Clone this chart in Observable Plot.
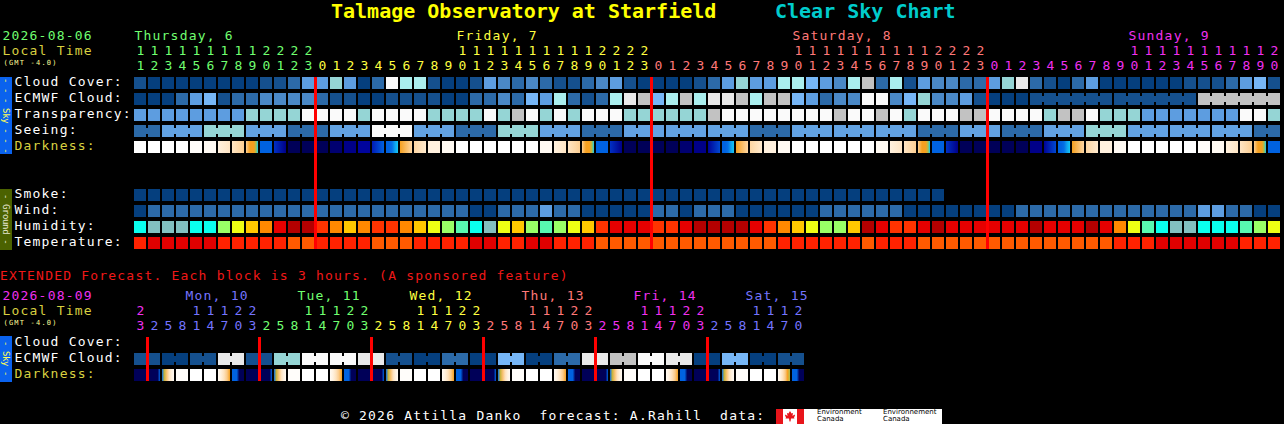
<!DOCTYPE html>
<html>
<head>
<meta charset="utf-8">
<title>Talmage Observatory at Starfield - Clear Sky Chart</title>
<script src="https://cdn.jsdelivr.net/npm/d3@7"></script>
<script src="https://cdn.jsdelivr.net/npm/@observablehq/plot@0.6"></script>
<style>
  html, body { margin: 0; padding: 0; background: #000; }
  #page { position: relative; width: 1284px; height: 424px; background: #000; overflow: hidden;
          font-family: "DejaVu Sans Mono", "Liberation Mono", monospace; color: #fff; }
  .abs { position: absolute; white-space: pre; }
  .txt { font-size: 13px; line-height: 16px; letter-spacing: 1.2px; }
  .title { top: -1px; font-size: 20px; line-height: 24px; font-weight: bold; }
  .side { position: absolute; left: 0; width: 12px; writing-mode: vertical-rl; text-align: center;
          font-size: 9px; line-height: 12px; letter-spacing: -0.4px; overflow: hidden; white-space: pre; }
  .plotbox { position: absolute; left: 0; width: 1284px; }
  .plotbox svg { display: block; max-width: none; }
  .ec { position: absolute; font-family: "DejaVu Sans", sans-serif; font-size: 7px; line-height: 7px; color: #000; white-space: pre; }
</style>
</head>
<body>
<div id="page">
  <div class="abs title" style="left:331px;color:#ffff00;">Talmage Observatory at Starfield</div>
  <div class="abs title" style="left:775px;color:#00cccc;">Clear Sky Chart</div>
  <div class="plotbox" id="mainHeader" style="top:27px;"></div>
  <div class="plotbox" id="mainGrid" style="top:77px;"></div>
  <div class="side" style="top:77px;height:77px;background:#0a62ee;color:#ffff55;">- - - Sky - - -</div>
  <div class="side" style="top:189px;height:61px;background:#4b6200;color:#e6e6d0;">- Ground -</div>
  <div class="abs txt" id="extNote" style="left:0;top:268px;color:#f01818;"></div>
  <div class="plotbox" id="extHeader" style="top:288px;"></div>
  <div class="plotbox" id="extGrid" style="top:337px;"></div>
  <div class="side" style="top:336px;height:46px;background:#0a62ee;color:#ffff55;">- Sky -</div>
  <div class="abs txt" id="footer" style="left:341px;top:408px;color:#fff;"></div>
  <div style="position:absolute;left:776px;top:409px;width:28px;height:15px;"><svg width="28" height="15" viewBox="0 0 28 15" style="display:block"><rect x="0" y="0" width="28" height="15" fill="#fff"/><rect x="0" y="0" width="7" height="15" fill="#e8151b"/><rect x="21" y="0" width="7" height="15" fill="#e8151b"/><polygon fill="#e8151b" points="14,2 15.5,4.5 17,4 16.5,7 18.5,5.5 19,6.5 18,8.5 18.5,9.5 15,9.5 14.5,12.5 13.5,12.5 13,9.5 9.5,9.5 10,8.5 9,6.5 9.5,5.5 11.5,7 11,4 12.5,4.5"/></svg></div>
  <div style="position:absolute;left:804px;top:409px;width:138px;height:15px;background:#fff;">
    <div class="ec" style="left:13px;top:0px;">Environment</div>
    <div class="ec" style="left:13px;top:7px;">Canada</div>
    <div class="ec" style="left:79px;top:0px;">Environnement</div>
    <div class="ec" style="left:79px;top:7px;">Canada</div>
  </div>
</div>
<script>
// ===================== DATA =====================
const mainDate = "2026-08-06";
const extDate = "2026-08-09";
const localTimeLabel = "Local Time";
const gmtLabel = "(GMT -4.0)";
const extNote = "EXTENDED Forecast. Each block is 3 hours. (A sponsored feature)";
const footerText = "\u00a9 2026 Attilla Danko  forecast: A.Rahill  data:";

// main forecast: one block per hour
const mainDayLabels = ["Thursday, 6", "Friday, 7", "Saturday, 8", "Sunday, 9"];
const mainDayFirstHour = [11, 0, 0, 0];
const mainDayLastHour = [23, 23, 23, 20];

const skyRows = ["Cloud Cover:", "ECMWF Cloud:", "Transparency:", "Seeing:", "Darkness:"];
const groundRows = ["Smoke:", "Wind:", "Humidity:", "Temperature:"];

// cloud cover, % (hourly)
const cloudCover = [
  10,0,0,0,0,0,0,0,0,10,10,20,40,40,60,40,0,20,100,70,70,
  10,0,0,10,40,30,20,30,20,10,10,20,30,40,10,0,0,0,0,10,20,40,60,40,40,70,70,50,40,30,
  70,80,20,70,10,40,30,30,20,20,40,60,90,20,10,0,20,40,0,0,0,0,0,0,10,10,10,20,40,50,10
];
// ECMWF cloud, % : hourly part, then 6-hour blocks
const ecmwfHourly = [
  0,0,0,20,40,50,10,20,20,30,30,30,30,20,10,10,0,0,10,10,10,
  10,0,0,20,20,30,20,50,40,70,20,10,20,70,90,80,50,70,80,70,90,90,80,70,80,80,50,40,20,30,
  30,100,100,30,50,60,30,30,40,10,0,0,0
];
const ecmwfSixHour = [10, 10, 80];
// transparency: 0 transparent,1 above avg,2 average,3 below avg,4 poor,5 too cloudy
const transparency = [
  2,2,2,2,2,2,2,2,3,3,3,3,5,5,5,5,3,5,5,5,5,
  3,3,3,3,5,3,4,5,3,5,3,5,5,5,3,3,3,3,3,3,4,5,5,5,5,5,5,5,5,4,
  5,5,4,5,3,5,5,5,4,4,5,5,5,5,3,4,4,5,3,3,3,2,2,2,2,2,2,2,5,5,3
];
// seeing, x/5 (0 = too cloudy), 3-hour blocks
const seeingThreeHour = [4,3,2,3,4,3,0,3,4,2,3,4,3,3,3,4,3,3,3,4,3,4,3,2,3,3,3,4];
// darkness: sky brightness index (-4 daylight ... 6 darkest); arrays = change within the hour
const darkness = [
  -4,-4,-4,-4,-3.8,-3.5,[-3,-2.2],[-2.2,-1.2],[-1.2,-0.5,0,0,0,0.5,1],2,[3,5],6,6,
  6,5.5,5,4.3,[3.5,2],[2,2,1.8,1.3,1],[0,-1.5],[-1.5,-2.5],-3,-3.5,-4,-4,-4,-4,-4,-4,
  -3.5,[-3,-2.2],[-2.2,-1.2],[-1.2,-0.5,0,0,0,0.5,1],2,[3,5],6,6,6,6,5.5,5,
  [4.5,2.5],[2,2,1.8,1.3,1],[0,-1.5],[-1.5,-2.5],-3,-3.5,-4,-4,-4,-4,-4,-4,
  -3.5,[-3,-2.2],[-2.2,-1.2],[-1.2,-0.5,0,0,0,0.5,1],2,[3,5],6,6,6,6,6,
  5,[4.5,2.5],[2,2,1.8,1.3,1],[0,-1.5],[-1.5,-2.5],-3,-3.5,-4,-4,-4,-4,-4,
  -3.8,-3.5,[-3,-2.2],[-2.2,-1.2],[-1.2,-0.5,0,0,0,0.5,1],2
];
// smoke, ug/m3
const smoke = [
  0,0,0,0,0,0,0,0,0,0,0,0,0,0,0,0,0,0,0,0,0,0,0,0,0,0,0,0,0,
  0,0,0,0,0,0,0,0,0,0,0,0,0,0,0,0,0,0,0,0,0,0,0,0,0,0,0,0,0
];
// wind, mph
const wind = [
  3,8,9,8,8,7,8,9,9,8,8,8,7,7,8,8,8,7,7,8,8,
  8,7,7,4,4,7,8,8,12,8,7,4,3,3,4,5,7,7,5,7,8,8,4,4,3,3,3,4,7,8,
  8,8,7,7,5,4,4,3,3,4,4,5,7,8,8,8,9,9,9,8,8,8,8,7,7,12,12,8,7,5,4
];
// relative humidity, %
const humidity = [
  52,48,47,48,53,54,62,67,72,77,87,92,93,82,77,73,77,82,81,77,72,
  67,62,57,53,48,68,72,63,58,62,66,71,82,87,88,87,82,83,87,92,93,93,91,87,83,78,72,67,63,62,
  72,92,87,82,83,87,92,88,87,86,86,87,87,92,88,87,86,91,87,78,68,58,53,48,48,53,54,53,58,62,67
];
// temperature, C
const temperature = [
  27,29,30,31,30,29,28,27,27,27,26,25,25,26,26,26,26,25,24,25,26,
  27,27,28,29,29,28,28,29,29,28,27,26,25,24,24,24,23,23,23,23,24,24,24,25,25,26,27,27,28,28,
  27,25,26,27,26,25,24,24,24,24,23,23,23,23,23,23,24,24,25,26,27,28,29,30,30,31,30,29,28,27,26
];

// extended forecast: one block per 3 hours
const extDayLabels = [null, "Mon, 10", "Tue, 11", "Wed, 12", "Thu, 13", "Fri, 14", "Sat, 15"];
const extDayFirstHour = [23, 2, 2, 2, 2, 2, 2];
const extDayLastHour = [23, 23, 23, 23, 23, 23, 20];
const extStepHours = 3;
const extRows = ["Cloud Cover:", "ECMWF Cloud:", "Darkness:"];
const extCloudCover = [];
// ECMWF cloud, % per 6 hours (two blocks each)
const extEcmwfSixHour = [10,0,10,90,10,60,100,100,90,10,0,20,0,50,0,20,90,80,100,90,0,50,0,10];
const extDarkness = [
  6,
  [6,6,6,6,6,2],[1.8,0.3,-0.8,-2,-3,-3.5],-3.8,-4,-4,[-3.5,-3,-2,-1,0],[2,2,2,6,6,6],6,
  [6,6,6,6,6,2],[1.8,0.3,-0.8,-2,-3,-3.5],-3.8,-4,-4,[-3.5,-3,-2,-1,0],[2,2,2,6,6,6],6,
  [6,6,6,6,6,2],[1.8,0.3,-0.8,-2,-3,-3.5],-3.8,-4,-4,[-3.5,-3,-2,-1,0],[2,2,2,6,6,6],6,
  [6,6,6,6,6,2],[1.8,0.3,-0.8,-2,-3,-3.5],-3.8,-4,-4,[-3.5,-3,-2,-1,0],[2,2,2,6,6,6],6,
  [6,6,6,6,6,2],[1.8,0.3,-0.8,-2,-3,-3.5],-3.8,-4,-4,[-3.5,-3,-2,-1,0],[2,2,2,6,6,6],6,
  [6,6,6,6,6,2],[1.8,0.3,-0.8,-2,-3,-3.5],-3.8,-4,-4,[-3.5,-3,-2,-1,0,0.5],[2,2,2,6,6,6]
];

// ===================== STYLES =====================
const MONO = '"DejaVu Sans Mono", "Liberation Mono", monospace';
const STEP = 14;            // px per block
const X0 = 134;             // px where the first block starts
const CELL = 12 / 14;       // block width as fraction of a step
const FS = 13;              // body font size
const LOCAL_YELLOW = "#d8d040";
const mainDayTint = ["#70ff70", "#ffff40", "#ff7878", "#f030f0"];
const extDayTint = ["#f030f0", "#7474ff", "#70ff70", "#ffff40", "#ff7878", "#f030f0", "#7474ff"];
const CLOUD_PALETTE = ["#053f7e","#15508e","#2c6aa8","#4a88c6","#5d9de0","#76b6f6","#95d5d5","#aaeeee","#c2c2c2","#e9e9e9","#fafafa"];
const TRANSP_PALETTE = ["#053f7e","#2c6cac","#5d9de0","#95d5d5","#c2c2c2","#fafafa"];
const SEEING_PALETTE = ["#fafafa","#c2c2c2","#95d5d5","#62a2e2","#2c6aa8","#053f7e"];
const cloudColor = v => CLOUD_PALETTE[Math.round(v / 10)];
const transpColor = v => TRANSP_PALETTE[v];
const seeingColor = v => SEEING_PALETTE[v];
const windColor = d3.scaleThreshold().domain([5.5, 11.5, 16.5]).range(["#053f7e","#2c6aa8","#5d9de0","#95d5d5"]);
const smokeColor = d3.scaleThreshold().domain([2, 5]).range(["#053f7e","#2c6aa8","#5d9de0"]);
const humidColor = d3.scaleThreshold().domain([50,55,60,65,70,75,80,85,90])
  .range(["#82c0c0","#0affee","#58f8b0","#99ff66","#eeff14","#ffc800","#ff8800","#ff3300","#e60000","#b40000"]);
const tempColor = d3.scaleThreshold().domain([25.5, 28.5]).range(["#ff5a00","#ff2200","#e00000"]);
const darkColor = d3.scaleLinear()
  .domain([-4, -3.5, -3, -2, -1, 0, 0.5, 1, 1.6, 2, 3, 4, 5, 6])
  .range(["#ffffff","#fffaf3","#fff1de","#fee2bd","#fbca88","#f5a020","#a8c050","#14c8f4","#0a7ce8","#0062e0","#0030c4","#0006a6","#000088","#000058"])
  .clamp(true);

// ===================== BUILD =====================
function slotsFrom(labels, first, last, step) {
  const out = [];
  labels.forEach((label, d) => {
    for (let h = first[d]; h <= last[d]; h += step) out.push({i: out.length, h, d});
  });
  return out;
}
const mainSlots = slotsFrom(mainDayLabels, mainDayFirstHour, mainDayLastHour, 1);
const extSlots = slotsFrom(extDayLabels, extDayFirstHour, extDayLastHour, extStepHours);

function makeRow(row, values, color, groupOf) {
  return values.map((v, i) => ({row, i, v, fill: color(v, i), g: groupOf ? groupOf(i) : null}));
}
function makeBridges(cells) {
  const out = [];
  for (let k = 0; k + 1 < cells.length; k++) {
    const a = cells[k], b = cells[k + 1];
    if (a.g != null && a.g === b.g && b.i === a.i + 1) out.push({row: a.row, i: a.i, fill: a.fill});
  }
  return out;
}
function darkRow(row, values, prefix) {
  return values.map((v, i) => ({row, i, v, g: null,
    fill: Array.isArray(v) ? `url(#${prefix}${i})` : darkColor(v)}));
}
function addGradients(svg, cells, prefix) {
  const defs = d3.select(svg).insert("defs", ":first-child");
  cells.forEach(c => {
    if (!Array.isArray(c.v)) return;
    const g = defs.append("linearGradient").attr("id", prefix + c.i)
      .attr("x1", 0).attr("x2", 1).attr("y1", 0).attr("y2", 0);
    c.v.forEach((val, k) => g.append("stop")
      .attr("offset", k / (c.v.length - 1)).attr("stop-color", darkColor(val)));
  });
}

// main grid rows
const ecmwfValues = mainSlots.map((s, i) => i < ecmwfHourly.length ? ecmwfHourly[i]
  : ecmwfSixHour[Math.floor((i - ecmwfHourly.length) / 6)]);
const ecmwfGroup = i => i < ecmwfHourly.length ? null : "six" + Math.floor((i - ecmwfHourly.length) / 6);
let gk = -1;
const seeingGroupIdx = mainSlots.map((s, i) => { if (i === 0 || s.h % 3 === 1) gk++; return gk; });
const seeingValues = seeingGroupIdx.map(k => seeingThreeHour[k]);

const cloudCells = makeRow(skyRows[0], cloudCover, cloudColor);
const ecmwfCells = makeRow(skyRows[1], ecmwfValues, cloudColor, ecmwfGroup);
const transpCells = makeRow(skyRows[2], transparency, transpColor);
const seeingCells = makeRow(skyRows[3], seeingValues, seeingColor, i => seeingGroupIdx[i]);
const darkCells = darkRow(skyRows[4], darkness, "dkm");
const smokeCells = makeRow(groundRows[0], smoke, smokeColor);
const windCells = makeRow(groundRows[1], wind, windColor);
const humidCells = makeRow(groundRows[2], humidity, humidColor);
const tempCells = makeRow(groundRows[3], temperature, tempColor);
const mainCells = [].concat(cloudCells, ecmwfCells, transpCells, seeingCells, darkCells, smokeCells, windCells, humidCells, tempCells);
const mainBridges = [].concat(makeBridges(ecmwfCells), makeBridges(seeingCells));
const mainMidnights = mainSlots.filter((s, i) => i > 0 && s.d !== mainSlots[i - 1].d).map(s => s.i);

// extended rows
const extEcmwfValues = extSlots.map((s, i) => extEcmwfSixHour[Math.floor(i / 2)]);
const extCloudCells = makeRow(extRows[0], extCloudCover, cloudColor);
const extEcmwfCells = makeRow(extRows[1], extEcmwfValues, cloudColor, i => Math.floor(i / 2));
const extDarkCells = darkRow(extRows[2], extDarkness, "dke");
const extCells = [].concat(extCloudCells, extEcmwfCells, extDarkCells);
const extBridges = makeBridges(extEcmwfCells);
const extMidnights = extSlots.filter((s, i) => i > 0 && s.d !== extSlots[i - 1].d).map(s => s.i);

const baseStyle = {background: "transparent", color: "#fff", fontFamily: MONO, fontSize: FS + "px", letterSpacing: "1.2px", overflow: "visible"};

function headerPlot(slots, labels, tints, dateText, dateTint, height, labelDx) {
  const n = slots.length;
  const dayPos = labels.map((label, d) => {
    const s = slots.find(s => s.d === d && s.h >= 10);
    return label && s ? {label, i: s.i, d} : null;
  }).filter(Boolean);
  return Plot.plot({
    width: 1284, height, margin: 0,
    x: {domain: [0, n], range: [X0, X0 + STEP * n], axis: null},
    y: {type: "band", domain: ["day", "tens", "units"], range: [0, height], padding: 0, axis: null},
    color: {type: "identity"},
    style: baseStyle,
    marks: [
      Plot.text(dayPos, {x: "i", y: () => "day", text: "label", fill: d => tints[d.d], textAnchor: "start", dx: labelDx, fontSize: FS}),
      Plot.text(slots.filter(s => s.h >= 10), {x: d => d.i + CELL / 2, y: () => "tens", text: d => Math.floor(d.h / 10), fill: d => tints[d.d], fontSize: FS, dx: 0.6}),
      Plot.text(slots, {x: d => d.i + CELL / 2, y: () => "units", text: d => d.h % 10, fill: d => tints[d.d], fontSize: FS, dx: 0.6}),
      Plot.text([dateText], {frameAnchor: "left", y: () => "day", text: d => d, fill: dateTint, textAnchor: "start", dx: 2, fontSize: FS}),
      Plot.text([localTimeLabel], {frameAnchor: "left", y: () => "tens", text: d => d, fill: LOCAL_YELLOW, textAnchor: "start", dx: 2, fontSize: FS}),
      Plot.text([gmtLabel], {frameAnchor: "left", y: () => "units", text: d => d, fill: "#ffff99", textAnchor: "start", dx: 3, dy: -3, fontSize: 7})
    ]
  });
}

function gridPlot(n, rows, cells, bridges, midnights, labelRows, height) {
  return Plot.plot({
    width: 1284, height, margin: 0,
    x: {domain: [0, n], range: [X0, X0 + STEP * n], axis: null},
    y: {type: "band", domain: rows, range: [0, height], paddingInner: 0.25, paddingOuter: 0, axis: null},
    color: {type: "identity"},
    style: baseStyle,
    marks: [
      Plot.barX(cells, {x1: "i", x2: d => d.i + CELL, y: "row", fill: "fill", insetTop: 0, insetBottom: 0}),
      Plot.barX(bridges, {x1: d => d.i + CELL, x2: d => d.i + 1, y: "row", fill: "fill", insetTop: 3, insetBottom: 3}),
      Plot.text(labelRows, {frameAnchor: "left", y: d => d, text: d => d, dx: 14, dy: -1.5, textAnchor: "start",
        fill: d => d === "Darkness:" ? LOCAL_YELLOW : "#ffffff", fontSize: FS}),
      Plot.ruleX(midnights, {x: d => d - (1 - CELL) / 2, stroke: "#ff0000", strokeWidth: 3})
    ]
  });
}

const mainRows = [...skyRows, "gap1", "gap2", ...groundRows];
const mainHeaderSvg = headerPlot(mainSlots, mainDayLabels, mainDayTint, mainDate, mainDayTint[0], 46, 0);
const mainGridSvg = gridPlot(mainSlots.length, mainRows, mainCells, mainBridges, mainMidnights, [...skyRows, ...groundRows], 172);
addGradients(mainGridSvg, darkCells, "dkm");

const extHeaderSvg = headerPlot(extSlots, extDayLabels, extDayTint, extDate, extDayTint[0], 45, -5);
const extGridSvg = gridPlot(extSlots.length, extRows, extCells, extBridges, extMidnights, extRows, 44);
addGradients(extGridSvg, extDarkCells, "dke");

document.getElementById("mainHeader").appendChild(mainHeaderSvg);
document.getElementById("mainGrid").appendChild(mainGridSvg);
document.getElementById("extHeader").appendChild(extHeaderSvg);
document.getElementById("extGrid").appendChild(extGridSvg);
document.getElementById("extNote").textContent = extNote;
document.getElementById("footer").textContent = footerText;
</script>
</body>
</html>
